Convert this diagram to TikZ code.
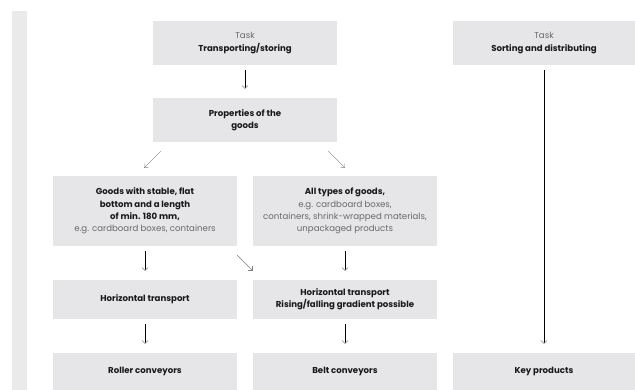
\documentclass[tikz,border=0pt]{standalone}
\usepackage{fontspec}
\setmainfont{Poppins}[BoldFont={Poppins Bold}]
\usetikzlibrary{positioning,arrows.meta,calc}

\definecolor{boxgray}{RGB}{230,230,232}
\definecolor{bargray}{RGB}{234,234,234}
\definecolor{textgray}{RGB}{105,105,105}
\definecolor{inkdark}{RGB}{25,25,25}

\begin{document}
\begin{tikzpicture}[
    x=1pt, y=-1pt,
    box/.style={
        rectangle,
        fill=boxgray,
        minimum width=184pt,
        inner sep=0pt,
        align=center,
        text=inkdark,
        font=\fontsize{8.6}{12.4}\selectfont
    },
    arrow/.style={-{Straight Barb[length=3pt, width=6pt, line width=0.4pt, color=gray]},
        line width=0.7pt, black, shorten <=5pt, shorten >=9pt},
    diag/.style={-{Straight Barb[length=3pt, width=6pt, line width=0.4pt]},
        line width=0.4pt, gray}
]
\useasboundingbox (0,0) rectangle (635,390);

% --- Leiste links ---
\fill[bargray] (12,11) rectangle (27,390);

% --- Aufgaben ---
\node[box, minimum height=44pt] (task1) at (245,43)
    {\textcolor{textgray}{Task}\\\textbf{Transporting/storing}};
\node[box, minimum height=44pt, minimum width=182pt] (task2) at (544,43)
    {\textcolor{textgray}{Task}\\\textbf{Sorting and distributing}};

% --- Eigenschaften ---
\node[box, minimum height=44pt] (props) at (245,120)
    {\textbf{Properties of the}\\\textbf{goods}};

% --- Arten der Ware ---
\node[box, minimum height=70pt] (stable) at (145,211)
    {\textbf{Goods with stable, flat}\\\textbf{bottom and a length}\\
     \textbf{of min. 180 mm,}\\\textcolor{textgray}{e.g. cardboard boxes, containers}};
\node[box, minimum height=70pt] (alltypes) at (345,211)
    {\textbf{All types of goods,}\\\textcolor{textgray}{e.g. cardboard boxes,}\\
     \textcolor{textgray}{containers, shrink-wrapped materials,}\\
     \textcolor{textgray}{unpackaged products}};

% --- Transport ---
\node[box, minimum height=39pt] (hleft) at (145,299.5)
    {\textbf{Horizontal transport}};
\node[box, minimum height=39pt] (hright) at (345,299.5)
    {\textbf{Horizontal transport}\\\textbf{Rising/falling gradient possible}};

% --- Foerderer ---
\node[box, minimum height=37pt] (roller) at (145,371.5)
    {\textbf{Roller conveyors}};
\node[box, minimum height=37pt] (belt) at (345,371.5)
    {\textbf{Belt conveyors}};
\node[box, minimum height=37pt, minimum width=182pt] (keyprod) at (544,371.5)
    {\textbf{Key products}};

% --- Pfeile senkrecht ---
\draw[arrow] (task1) -- (props);
\draw[arrow] (stable) -- (hleft);
\draw[arrow] (alltypes) -- (hright);
\draw[arrow] (hleft) -- (roller);
\draw[arrow] (hright) -- (belt);
\draw[arrow] (task2) -- (keyprod);

% --- Pfeile schraeg ---
\draw[diag, shorten <=12.7pt, shorten >=11.3pt]
    ($(props.south west)+(17,0)$) -- ($(stable.north)+(-9,0)$);
\draw[diag, shorten <=12.7pt, shorten >=11.3pt]
    ($(props.south east)+(-18,0)$) -- ($(alltypes.north)+(8,0)$);
\draw[diag, shorten <=12.7pt, shorten >=12.7pt]
    ($(stable.south east)+(-9,0)$) -- ($(hright.north west)+(9,0)$);

\end{tikzpicture}
\end{document}
